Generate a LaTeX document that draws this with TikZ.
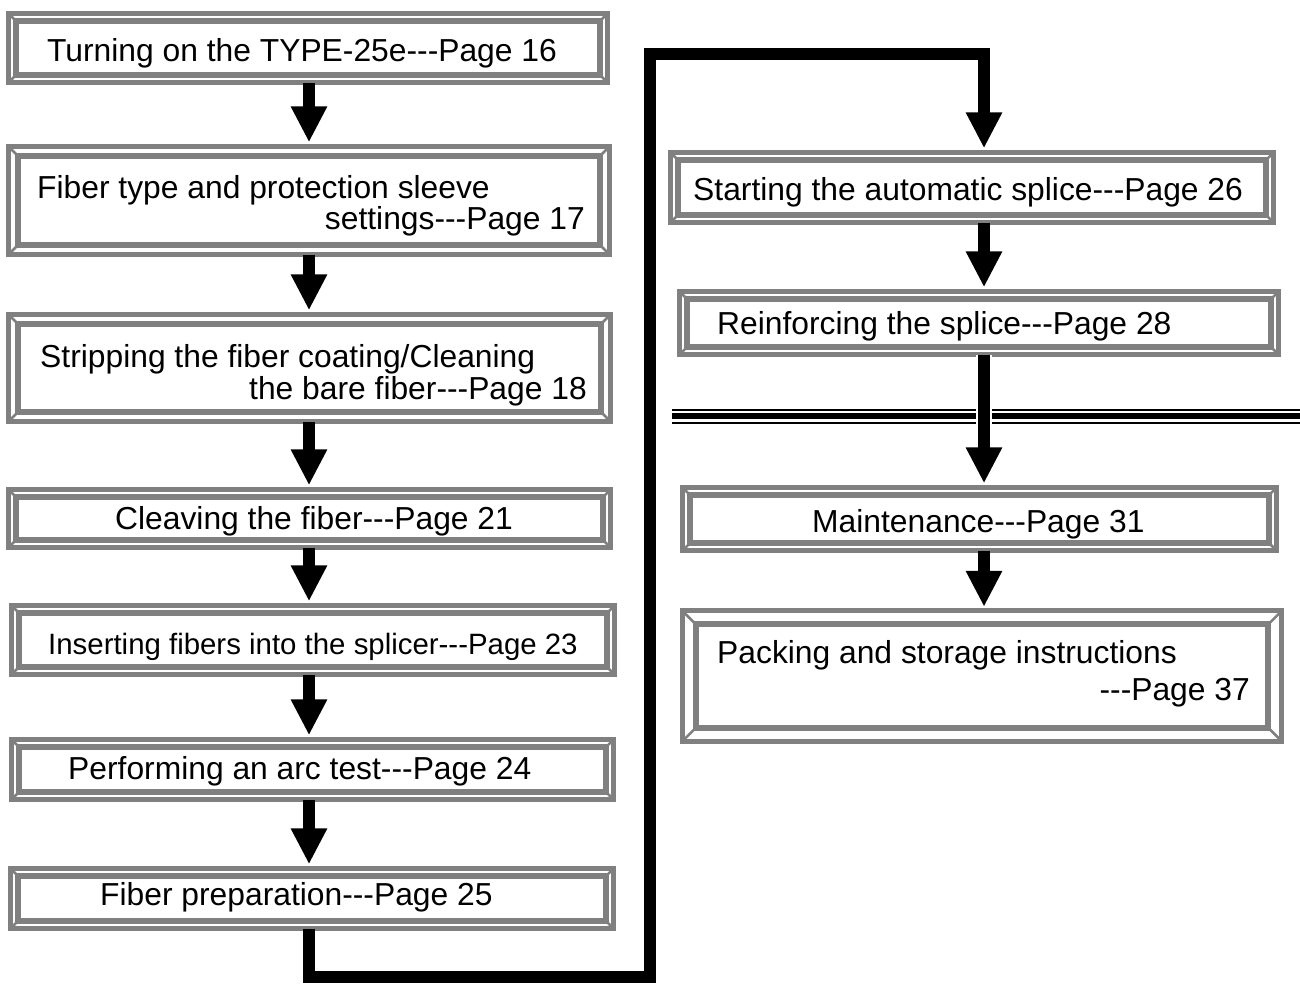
\documentclass[tikz,border=0pt]{standalone}
\usepackage{fontspec}
\newfontfamily\flowfont{Liberation Sans}
\usetikzlibrary{arrows.meta}
\definecolor{framegray}{RGB}{128,128,128}
\tikzset{
  stepbox/.style={rectangle, inner sep=0pt},
  steptext/.style={inner sep=0pt, font=\flowfont\fontsize{31.8}{31}\selectfont},
  flowline/.style={line width=12pt, line join=miter, -{Triangle[length=36pt,width=34pt]}, shorten >=4pt},
}
\begin{document}
\begin{tikzpicture}[x=1pt,y=-1pt]
\useasboundingbox (0,0) rectangle (1300,983);

% left column
\node[stepbox, minimum width=599pt, minimum height=69pt] (b1) at (308,48) {};
\node[stepbox, minimum width=601pt, minimum height=108pt] (b2) at (309,200.5) {};
\node[stepbox, minimum width=602pt, minimum height=107pt] (b3) at (309.5,368) {};
\node[stepbox, minimum width=602pt, minimum height=58pt] (b4) at (309.5,518.5) {};
\node[stepbox, minimum width=603pt, minimum height=69pt] (b5) at (313,640) {};
\node[stepbox, minimum width=602pt, minimum height=60pt] (b6) at (312.5,769.5) {};
\node[stepbox, minimum width=603pt, minimum height=60pt] (b7) at (312,898.5) {};

% right column
\node[stepbox, minimum width=603pt, minimum height=70pt] (r1) at (972,187.5) {};
\node[stepbox, minimum width=599pt, minimum height=63pt] (r2) at (979,323) {};
\node[stepbox, minimum width=594pt, minimum height=63pt] (r3) at (979.5,519) {};
\node[stepbox, minimum width=599pt, minimum height=130pt] (r4) at (982,676) {};

% bevelled frames
\foreach \n/\g in {b1/2.5,b2/4,b3/4,b4/2.5,b5/2.5,b6/2.5,b7/2.5,r1/2.5,r2/2.5,r3/2.5,r4/8}{
  \pgfmathsetmacro\d{5.5+\g}
  \draw[framegray, line width=5pt] (\n.south west) rectangle (\n.north east);
  \draw[framegray, line width=6pt] ([xshift=\d pt,yshift=-\d pt]\n.north west) rectangle ([xshift=-\d pt,yshift=\d pt]\n.south east);
  \draw[framegray, line width=2.5pt] (\n.north west) -- ([xshift=\d pt,yshift=-\d pt]\n.north west);
  \draw[framegray, line width=2.5pt] (\n.north east) -- ([xshift=-\d pt,yshift=-\d pt]\n.north east);
  \draw[framegray, line width=2.5pt] (\n.south west) -- ([xshift=\d pt,yshift=\d pt]\n.south west);
  \draw[framegray, line width=2.5pt] (\n.south east) -- ([xshift=-\d pt,yshift=\d pt]\n.south east);
}

\node[steptext, anchor=base west] (t1) at (47,61.5) {Turning on the TYPE-25e---Page 16};
\node[steptext, anchor=base west] (t2a) at (37,198.5) {Fiber type and protection sleeve};
\node[steptext, anchor=base east] (t2b) at (585,229.5) {settings---Page 17};
\node[steptext, anchor=base west] (t3a) at (40,367.5) {Stripping the fiber coating/Cleaning};
\node[steptext, anchor=base east] (t3b) at (587,399.5) {the bare fiber---Page 18};
\node[steptext, anchor=base west] (t4) at (115,529.5) {Cleaving the fiber---Page 21};
\node[steptext, anchor=base west, font=\flowfont\fontsize{29.4}{30}\selectfont] (t5) at (48,654) {Inserting fibers into the splicer---Page 23};
\node[steptext, anchor=base west] (t6) at (68,779.5) {Performing an arc test---Page 24};
\node[steptext, anchor=base west] (t7) at (100,905.5) {Fiber preparation---Page 25};
\node[steptext, anchor=base west] (u1) at (693,200.5) {Starting the automatic splice---Page 26};
\node[steptext, anchor=base west] (u2) at (717,334.5) {Reinforcing the splice---Page 28};
\node[steptext, anchor=base west] (u3) at (812,532.5) {Maintenance---Page 31};
\node[steptext, anchor=base west] (u4a) at (717,663.5) {Packing and storage instructions};
\node[steptext, anchor=base east] (u4b) at (1250,700.5) {---Page 37};

% separator
\draw[line width=2pt] (672,409.5) -- (1300,409.5);
\draw[line width=6pt] (672,416) -- (1300,416);
\draw[line width=2pt] (672,423) -- (1300,423);

\coordinate (lc) at (309,0);
\coordinate (rc) at (984,0);
\coordinate (c1) at (650,977);
\coordinate (c2) at (650,54);

\draw[flowline] (lc |- b1.south) -- (lc |- b2.north);
\draw[flowline] (lc |- b2.south) -- (lc |- b3.north);
\draw[flowline] (lc |- b3.south) -- (lc |- b4.north);
\draw[flowline] (lc |- b4.south) -- (lc |- b5.north);
\draw[flowline] (lc |- b5.south) -- (lc |- b6.north);
\draw[flowline] (lc |- b6.south) -- (lc |- b7.north);
\draw[flowline] (lc |- b7.south) |- (c1) -- (c2) -| (rc |- r1.north);
\draw[flowline] (rc |- r1.south) -- (rc |- r2.north);
\draw[flowline, preaction={draw=white, line width=16pt, -}] (rc |- r2.south) -- (rc |- r3.north);
\draw[flowline] (rc |- r3.south) -- (rc |- r4.north);

\end{tikzpicture}
\end{document}
